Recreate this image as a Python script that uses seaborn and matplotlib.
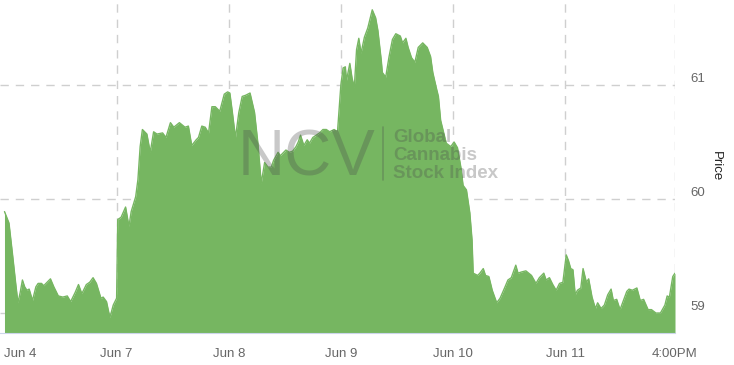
import matplotlib
matplotlib.use("Agg")
import matplotlib.pyplot as plt
import matplotlib.transforms as mtransforms
from matplotlib.lines import Line2D
import pandas as pd
import seaborn as sns

# time in trading-day units (0 = Jun 4, 1 = Jun 7, ... 5 = Jun 11)
session_time = [
    0.00, 0.04, 0.07, 0.10, 0.12, 0.14, 0.16, 0.18, 0.20, 0.22, 0.25, 0.28, 0.30, 0.33, 0.35, 0.38,
    0.41, 0.44, 0.48, 0.52, 0.56, 0.59, 0.63, 0.66, 0.69, 0.73, 0.76, 0.79, 0.82, 0.86, 0.88, 0.91,
    0.94, 0.97, 1.00,
    1.01, 1.04, 1.08, 1.11, 1.13, 1.17, 1.19, 1.21, 1.23, 1.27, 1.30, 1.33, 1.36, 1.41, 1.44, 1.48,
    1.51, 1.56, 1.61, 1.64, 1.67, 1.71, 1.73, 1.76, 1.79, 1.82, 1.85, 1.88, 1.92, 1.96, 1.99,
    2.01, 2.03, 2.06, 2.09, 2.12, 2.15, 2.19, 2.23, 2.26, 2.29, 2.32, 2.35, 2.38, 2.40, 2.44, 2.46,
    2.48, 2.51, 2.54, 2.57, 2.60, 2.62, 2.64, 2.67, 2.70, 2.72, 2.75, 2.78, 2.81, 2.84, 2.87, 2.90,
    2.94, 2.97, 3.00,
    3.02, 3.04, 3.05, 3.08, 3.10, 3.12, 3.14, 3.16, 3.18, 3.21, 3.24, 3.28, 3.31, 3.33, 3.36, 3.37,
    3.40, 3.43, 3.46, 3.49, 3.53, 3.55, 3.58, 3.60, 3.63, 3.66, 3.69, 3.73, 3.77, 3.80, 3.82, 3.85,
    3.87, 3.89, 3.94, 3.98, 4.01,
    4.04, 4.07, 4.09, 4.12, 4.15, 4.17, 4.18, 4.22, 4.24, 4.27, 4.29, 4.32, 4.35, 4.39, 4.42, 4.46,
    4.49, 4.52, 4.56, 4.58, 4.61, 4.65, 4.70, 4.74, 4.77, 4.81, 4.83, 4.86, 4.89, 4.92, 4.95, 4.98,
    5.01,
    5.03, 5.05, 5.07, 5.09, 5.11, 5.14, 5.16, 5.19, 5.21, 5.24, 5.27, 5.29, 5.32, 5.35, 5.38, 5.41,
    5.43, 5.46, 5.49, 5.52, 5.55, 5.57, 5.60, 5.64, 5.67, 5.70, 5.74, 5.77, 5.81, 5.85, 5.89, 5.91,
    5.93, 5.96, 5.98,
]

price = [
    59.89, 59.79, 59.53, 59.26, 59.09, 59.18, 59.29, 59.23, 59.20, 59.21, 59.11, 59.23, 59.26, 59.26, 59.24, 59.27,
    59.30, 59.23, 59.15, 59.14, 59.15, 59.10, 59.18, 59.25, 59.17, 59.25, 59.27, 59.31, 59.26, 59.13, 59.14, 59.10,
    58.96, 59.07, 59.13,
    59.82, 59.84, 59.93, 59.76, 59.89, 60.02, 60.17, 60.46, 60.61, 60.57, 60.41, 60.59, 60.57, 60.58, 60.54, 60.67,
    60.63, 60.67, 60.63, 60.64, 60.47, 60.52, 60.54, 60.64, 60.63, 60.58, 60.81, 60.81, 60.77, 60.92, 60.94,
    60.93, 60.78, 60.54, 60.76, 60.90, 60.91, 60.93, 60.76, 60.49, 60.14, 60.32, 60.28, 60.28, 60.34, 60.41, 60.38,
    60.40, 60.43, 60.41, 60.42, 60.46, 60.50, 60.56, 60.47, 60.52, 60.49, 60.54, 60.56, 60.58, 60.61, 60.61, 60.59,
    60.61, 60.59, 61.00,
    61.15, 61.16, 61.04, 61.19, 61.06, 60.98, 61.31, 61.41, 61.28, 61.42, 61.50, 61.66, 61.59, 61.48, 61.22, 61.11,
    61.07, 61.25, 61.40, 61.45, 61.43, 61.37, 61.41, 61.33, 61.24, 61.20, 61.33, 61.37, 61.33, 61.25, 61.11, 60.98,
    60.90, 60.69, 60.49, 60.46, 60.50,
    60.45, 60.28, 60.12, 60.08, 59.88, 59.64, 59.35, 59.33, 59.35, 59.39, 59.33, 59.32, 59.20, 59.09, 59.13, 59.22,
    59.29, 59.31, 59.42, 59.35, 59.36, 59.37, 59.33, 59.26, 59.31, 59.35, 59.29, 59.31, 59.25, 59.20, 59.26, 59.27,
    59.51,
    59.46, 59.39, 59.38, 59.16, 59.20, 59.22, 59.39, 59.27, 59.30, 59.14, 59.04, 59.09, 59.04, 59.07, 59.16, 59.21,
    59.11, 59.12, 59.03, 59.11, 59.19, 59.21, 59.20, 59.22, 59.11, 59.12, 59.03, 59.03, 59.00, 59.00, 59.07, 59.15,
    59.14, 59.32, 59.35,
]

tick_pos = [0, 1, 2, 3, 4, 5, 5.98]
tick_labels = ["Jun 4", "Jun 7", "Jun 8", "Jun 9", "Jun 10", "Jun 11", "4:00PM"]
price_ticks = [59, 60, 61]

df = pd.DataFrame({"time": session_time, "price": price})

sns.set_style("white")
plt.rcParams["font.family"] = ["Liberation Sans", "DejaVu Sans"]

green = "#76b661"
y_min, y_max = 58.825, 61.746

fig = plt.figure(figsize=(7.34, 3.65), dpi=100)
ax = fig.add_axes([0, 32 / 365, 675 / 734, 333 / 365])

ax.fill_between(df["time"], y_min, df["price"], color=green, linewidth=0, zorder=2)
sns.lineplot(data=df, x="time", y="price", color=green, linewidth=1, ax=ax, zorder=3)

ax.set_xlim(-0.04, 5.98)
ax.set_ylim(y_min, y_max)

# grid
ax.set_axisbelow(True)
ax.grid(True, color="#cfcfcf", linestyle=(0, (6, 5)), linewidth=1)
ax.set_xticks(tick_pos)
ax.set_xticklabels(tick_labels)
ax.xaxis.get_gridlines()[0].set_visible(False)
xlabels = ax.get_xticklabels()
xlabels[0].set_horizontalalignment("left")
ax.tick_params(axis="x", colors="#ccd6eb", length=6, width=1, pad=5,
               labelcolor="#666666", labelsize=9.5)

ax.yaxis.tick_right()
ax.yaxis.set_label_position("right")
ax.set_yticks(price_ticks)
ax.tick_params(axis="y", length=0, pad=11, labelcolor="#666666", labelsize=9.5)
shift = mtransforms.ScaledTranslation(0, 8 / 100, fig.dpi_scale_trans)
for lab in ax.get_yticklabels():
    lab.set_transform(lab.get_transform() + shift)

ax.set_xlabel("")
ax.set_ylabel("Price", rotation=270, fontsize=9.5, color="#222222", labelpad=12)

for side in ["top", "left", "right"]:
    ax.spines[side].set_visible(False)
ax.spines["bottom"].set_color("#ccd6eb")
ax.spines["bottom"].set_zorder(4)

# watermark
mark = dict(color="#4a4a4a", alpha=0.3, zorder=5)
fig.text(238 / 734, 1 - 176 / 365, "NCV", fontsize=47, va="baseline", ha="left", **mark)
fig.add_artist(Line2D([383 / 734, 383 / 734], [1 - 127 / 365, 1 - 180 / 365],
                      transform=fig.transFigure, linewidth=1.2, **mark))
for i, word in enumerate(["Global", "Cannabis", "Stock Index"]):
    fig.text(393 / 734, 1 - (142 + 18 * i) / 365, word, fontsize=13.5, fontweight="bold",
             va="baseline", ha="left", **mark)

fig.savefig("out.png", dpi=100)
